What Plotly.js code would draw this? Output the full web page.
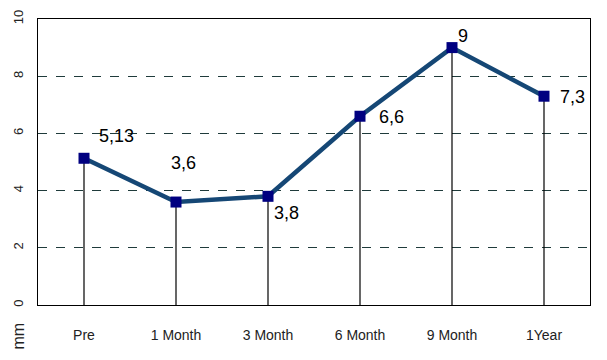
<!DOCTYPE html>
<html><head><meta charset="utf-8">
<script src="https://cdn.plot.ly/plotly-3.0.1.min.js"></script>
<style>html,body{margin:0;padding:0;background:#fff}#c{width:607px;height:360px}</style>
</head><body><div id="c"></div>
<script>
const categories = ["Pre", "1 Month", "3 Month", "6 Month", "9 Month", "1Year"];
const values = [5.13, 3.6, 3.8, 6.6, 9, 7.3];
const labels = ["5,13", "3,6", "3,8", "6,6", "9", "7,3"];
const yTicks = [0, 2, 4, 6, 8, 10];
const unitLabel = "mm";

const labelShiftX = [32, 7, 18, 31, 11, 28];
const labelShiftY = [22, 39, -17, -1, 12, -1];

const trace = {
  x: categories, y: values, type: "scatter", mode: "lines+markers",
  line: {color: "#154775", width: 4.5},
  marker: {symbol: "square", size: 11, color: "#000080"},
  error_y: {type: "data", symmetric: false, array: values.map(() => 0), arrayminus: values,
            color: "#000", thickness: 1.2, width: 0},
  hoverinfo: "skip"
};

const annotations = categories.map((c, i) => ({
  x: c, y: values[i], xref: "x", yref: "y", text: labels[i], showarrow: false,
  xshift: labelShiftX[i], yshift: labelShiftY[i],
  font: {family: "Liberation Sans, Arial, sans-serif", size: 18, color: "#000"}
}));
annotations.push({
  xref: "paper", yref: "paper", x: -0.036, y: -0.11, text: unitLabel, showarrow: false,
  textangle: -90, xanchor: "center", yanchor: "middle",
  font: {family: "Liberation Sans, Arial, sans-serif", size: 16, color: "#222"}
});

const layout = {
  width: 607, height: 360,
  margin: {l: 38, r: 17, t: 19, b: 55},
  paper_bgcolor: "#fff", plot_bgcolor: "#fff",
  showlegend: false,
  font: {family: "Liberation Sans, Arial, sans-serif", color: "#222"},
  xaxis: {
    type: "category", range: [-0.5, 5.5], showgrid: false, zeroline: false,
    showline: true, linecolor: "#000", linewidth: 1, mirror: true,
    ticks: "", ticklabelstandoff: 17, tickfont: {size: 14, color: "#222"}
  },
  yaxis: {
    range: [0, 10], tickvals: yTicks, ticktext: yTicks.map(String),
    showgrid: true, gridcolor: "#1f3b3b", griddash: "dash", gridwidth: 1,
    zeroline: false, showline: true, linecolor: "#000", linewidth: 1, mirror: true,
    ticks: "", tickangle: -90, ticklabelstandoff: 9, tickfont: {size: 13, color: "#222"}
  },
  annotations: annotations
};

Plotly.newPlot("c", [trace], layout, {staticPlot: true, displayModeBar: false});
</script></body></html>
